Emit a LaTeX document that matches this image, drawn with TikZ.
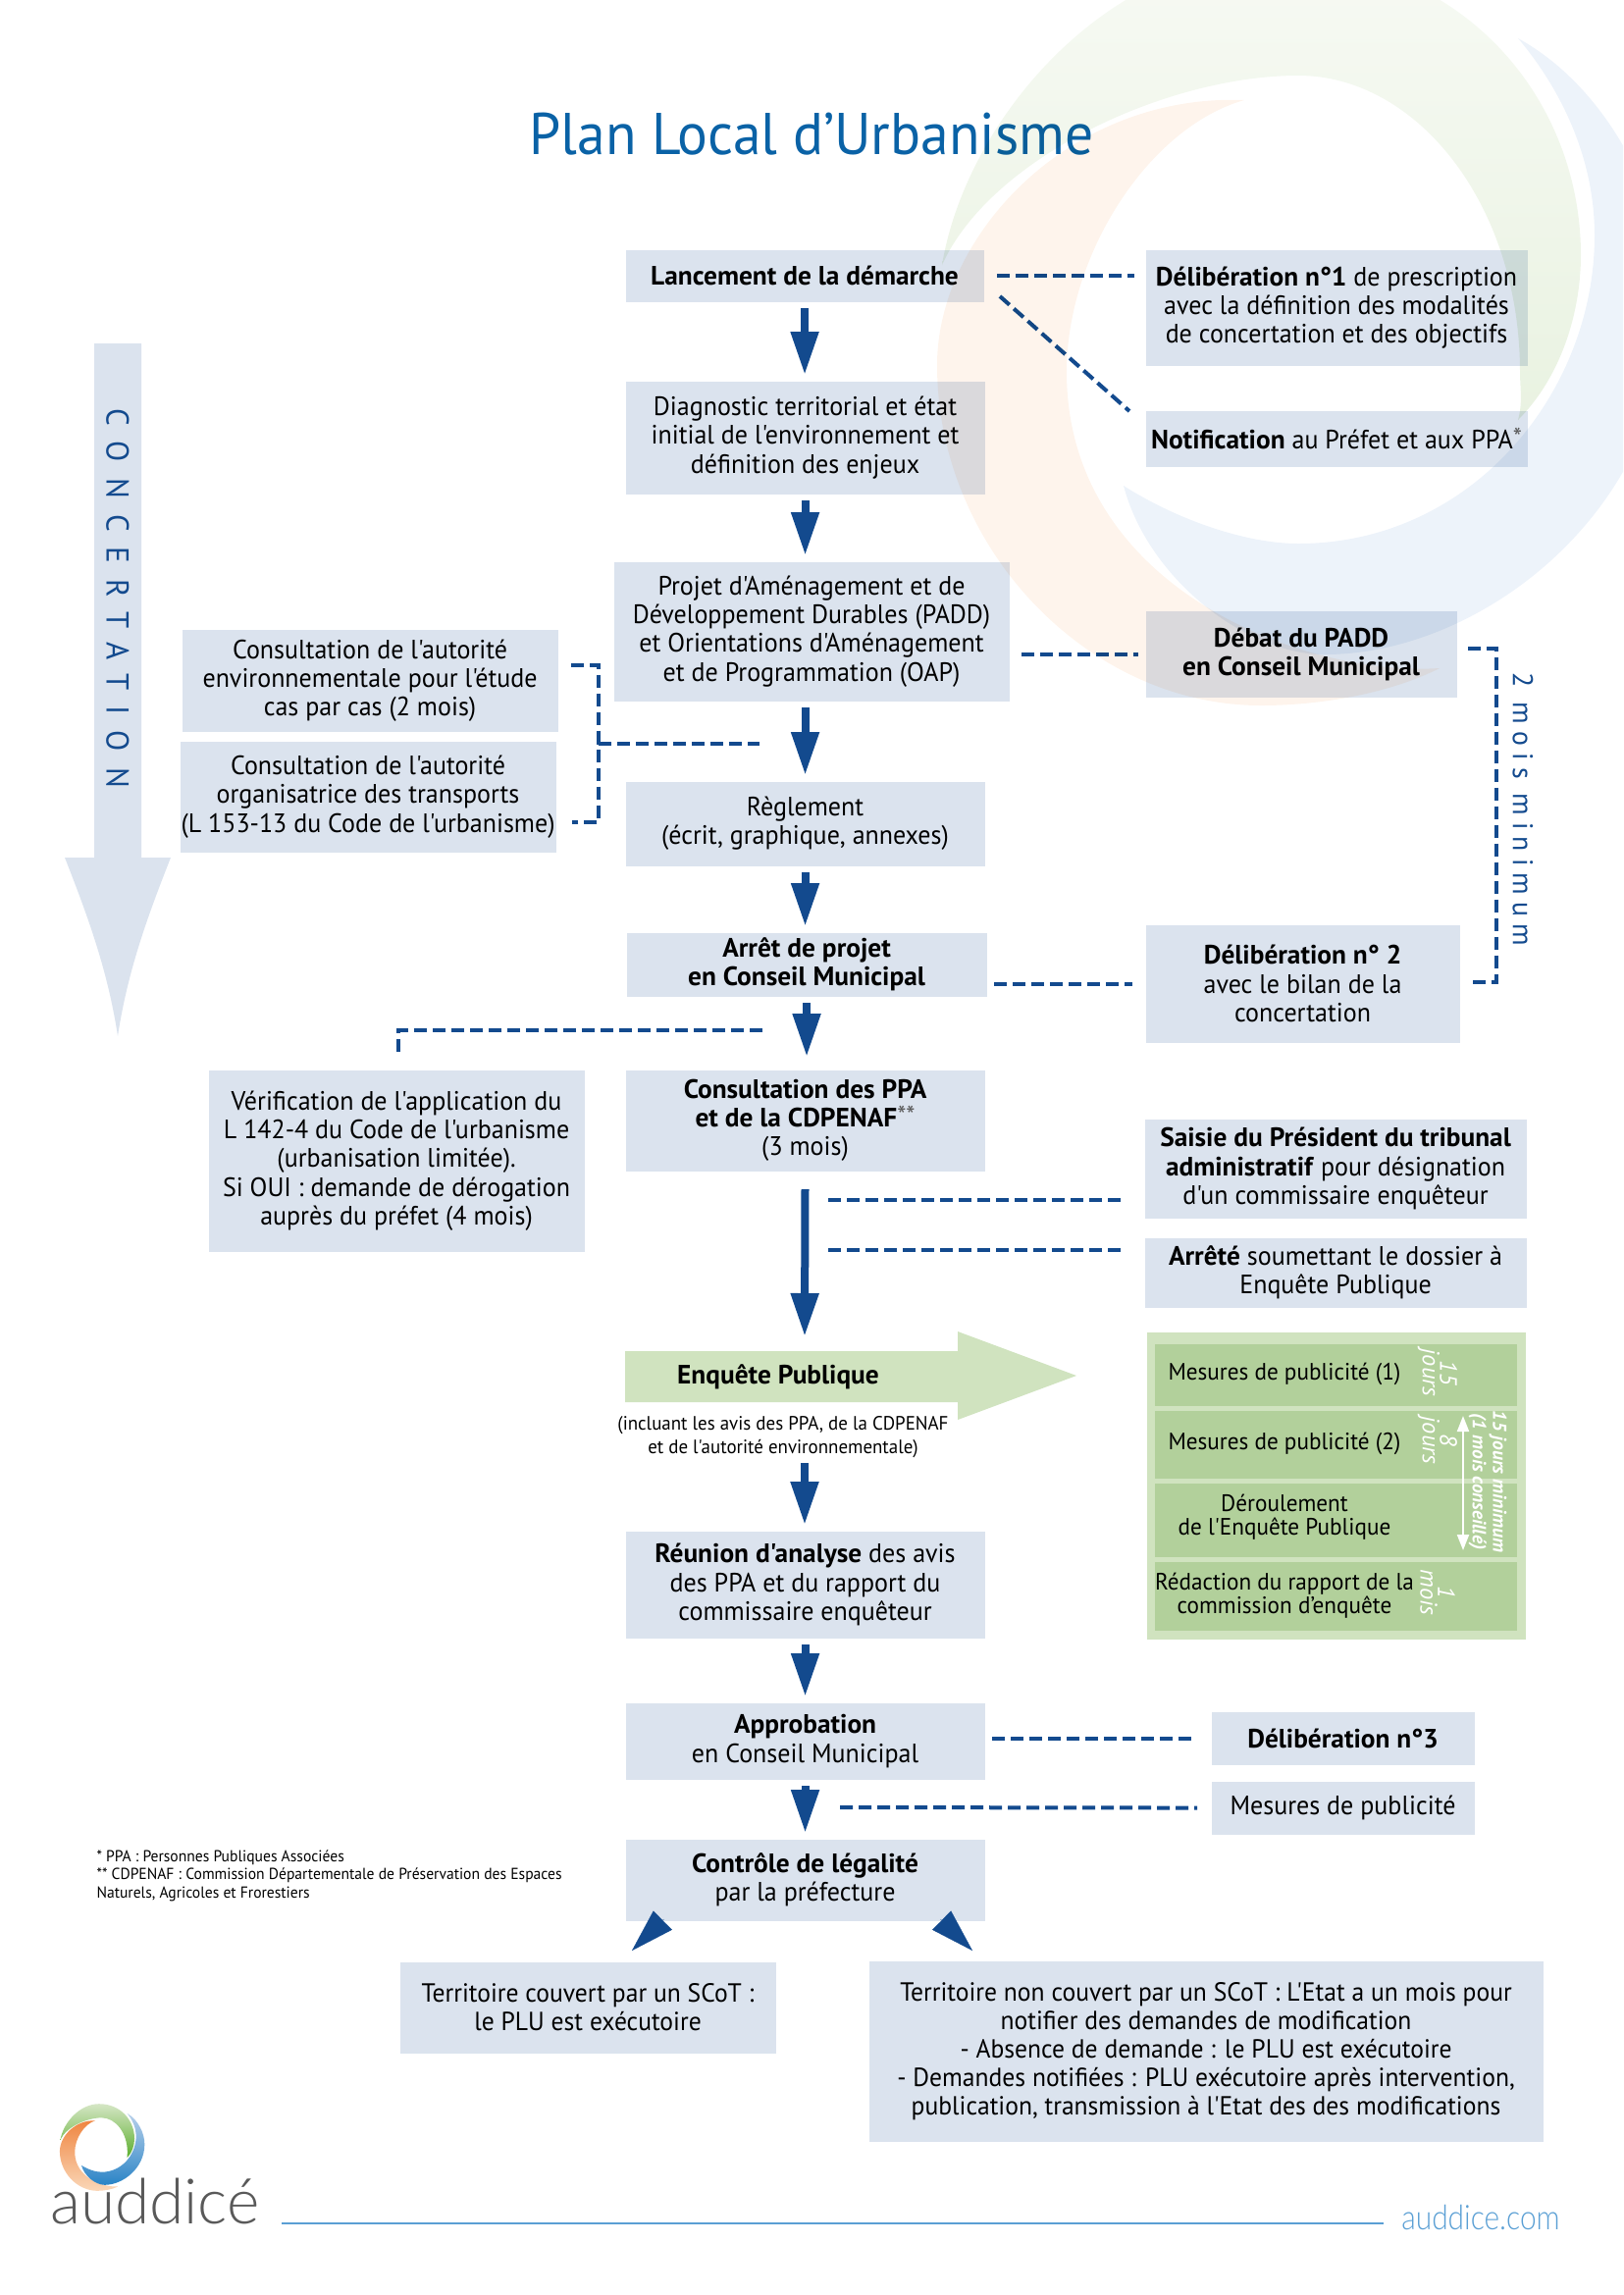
\documentclass[tikz,border=0pt]{standalone}
\usepackage{fontspec}
\usetikzlibrary{arrows.meta,positioning}
\newfontfamily\corps{PT Sans}[UprightFeatures={FakeStretch=0.96},BoldFeatures={FakeStretch=1.01}]
\newfontfamily\marque{Lato Light}
\newcommand{\pxu}{0.36pt}
\newcommand{\texte}{\corps\fontsize{9.75}{10.5}\selectfont}
\newcommand{\textebas}{\corps\fontsize{9.6}{10.5}\selectfont}
\newcommand{\petit}{\corps\fontsize{8.7}{8.7}\selectfont}
\newcommand{\duree}{\corps\itshape\fontsize{8.8}{6.4}\selectfont}
\newcommand{\dureepetit}{\corps\itshape\bfseries\fontsize{7}{7.4}\selectfont}
\newcommand{\etoile}[1]{\raisebox{0.15ex}{\color{black!65}#1}}
\definecolor{bleufonce}{HTML}{134A8E}
\definecolor{bleuboite}{HTML}{DBE3EE}
\definecolor{bleutitre}{HTML}{0A62A6}
\definecolor{bleumarque}{HTML}{5A9FD4}
\definecolor{vertclair}{HTML}{D0E3BF}
\definecolor{vertligne}{HTML}{B2D09B}
\definecolor{logovert}{HTML}{5BAE2D}
\definecolor{logovertclair}{HTML}{D5E6C5}
\definecolor{logoorange}{HTML}{EF8540}
\definecolor{logoorangeclair}{HTML}{FAD7B8}
\definecolor{logobleu}{HTML}{2A84C6}
\definecolor{logobleuclair}{HTML}{B8D0EA}
\definecolor{fondverthaut}{HTML}{F7FAF4}
\definecolor{fondvertbas}{HTML}{E9F2E1}
\definecolor{fondorange}{HTML}{FEF4EC}
\definecolor{fondbleu}{HTML}{EDF3FA}
\newcommand{\trajetvert}{(960,270) .. controls (985,120) and (1130,-45) .. (1300,-45)
    .. controls (1490,-45) and (1611,100) .. (1611,260)
    .. controls (1611,320) and (1590,385) .. (1547,428)
    .. controls (1552,410) and (1549,395) .. (1549,379)
    .. controls (1549,210) and (1445,77) .. (1323,77)
    .. controls (1190,77) and (1010,160) .. (960,270)}
\newcommand{\trajetorange}{(1268,102) .. controls (1090,95) and (955,240) .. (955,372)
    .. controls (955,560) and (1110,719) .. (1285,719)
    .. controls (1350,719) and (1420,705) .. (1467,681)
    .. controls (1330,690) and (1087,600) .. (1087,379)
    .. controls (1087,260) and (1170,130) .. (1268,102)}
\newcommand{\trajetbleu}{(1547,39) .. controls (1640,90) and (1700,210) .. (1700,310)
    .. controls (1700,520) and (1510,667) .. (1350,667)
    .. controls (1270,667) and (1170,590) .. (1145,495)
    .. controls (1200,530) and (1270,554) .. (1323,554)
    .. controls (1500,554) and (1625,400) .. (1625,240)
    .. controls (1625,160) and (1590,90) .. (1547,39)}
\tikzset{
    boite/.style={fill=bleuboite,anchor=north west,inner sep=0pt,align=center,font=\texte},
    ligneverte/.style={fill=vertligne,anchor=north west,inner sep=0pt},
    etiquette/.style={align=center,inner sep=0pt,font=\petit},
    jours/.style={align=center,inner sep=0pt,text=white,rotate=-90,font=\duree},
    flux/.style={draw=bleufonce,line width=8*\pxu,shorten <=6*\pxu,shorten >=6*\pxu,
        -{Triangle[width=27*\pxu,length=44*\pxu]}},
    pointe/.style={draw=bleufonce,fill=bleufonce,line width=0.1pt,
        -{Triangle[width=27*\pxu,length=44*\pxu]}},
    tirets/.style={draw=bleufonce,line width=4*\pxu,dash pattern=on 13*\pxu off 6*\pxu},
}
\begin{document}
\begin{tikzpicture}[x=\pxu,y=-\pxu]
    \useasboundingbox (0,0) rectangle (1654,2339);

    \node[font={\corps\addfontfeatures{FakeStretch=0.91}\fontsize{21.6}{28}\selectfont},text=bleutitre,inner sep=0pt] (titre) at (827,137) {Plan Local d’Urbanisme};

    % fleche de concertation
    \fill[bleuboite] (96,350) -- (144,350) -- (144,874) -- (174,874)
        .. controls (150,935) and (130,990) .. (120,1056)
        .. controls (110,990) and (90,935) .. (66,874) -- (96,874) -- cycle;
    \node[rotate=-90,text=bleufonce,inner sep=0pt,font={\corps\addfontfeatures{LetterSpace=50}\fontsize{11.6}{12}\selectfont}] (concertation) at (120,610) {CONCERTATION};

    % colonne centrale
    \node[boite,minimum width=365*\pxu,minimum height=53*\pxu] (lancement) at (637,254) {\textbf{Lancement de la démarche}};
    \node[boite,minimum width=366*\pxu,minimum height=115*\pxu] (diagnostic) at (637,388) {Diagnostic territorial et état\\initial de l'environnement et\\définition des enjeux};
    \node[boite,minimum width=403*\pxu,minimum height=142*\pxu] (padd) at (625,572) {Projet d'Aménagement et de\\Développement Durables (PADD)\\et Orientations d'Aménagement\\et de Programmation (OAP)};
    \node[boite,minimum width=366*\pxu,minimum height=86*\pxu] (reglement) at (637,796) {Règlement\\(écrit, graphique, annexes)};
    \node[boite,minimum width=367*\pxu,minimum height=65*\pxu] (arret) at (638,950) {\textbf{Arrêt de projet}\\\textbf{en Conseil Municipal}};
    \node[boite,minimum width=366*\pxu,minimum height=103*\pxu] (ppa) at (637,1090) {\textbf{Consultation des PPA}\\\textbf{et de la CDPENAF}\etoile{**}\\(3 mois)};
    \node[boite,minimum width=366*\pxu,minimum height=109*\pxu] (reunion) at (637,1560) {\textbf{Réunion d'analyse} des avis\\des PPA et du rapport du\\commissaire enquêteur};
    \node[boite,minimum width=366*\pxu,minimum height=78*\pxu] (approbation) at (637,1735) {\textbf{Approbation}\\en Conseil Municipal};
    \node[boite,minimum width=366*\pxu,minimum height=83*\pxu] (controle) at (637,1874) {\textbf{Contrôle de légalité}\\par la préfecture};

    % enquete publique
    \fill[vertclair] (637,1377) -- (976,1377) -- (976,1357) -- (1097,1402) -- (976,1447) -- (976,1429) -- (637,1429) -- cycle;
    \node[inner sep=0pt,font=\texte] (enquete) at (793,1403) {\textbf{Enquête Publique}};
    \node[inner sep=0pt,align=center,font=\corps\fontsize{7.1}{8.6}\selectfont] (enquetesous) at (798,1465) {(incluant les avis des PPA, de la CDPENAF\\et de l'autorité environnementale)};
    \coordinate (enquetehaut) at (820,1368);
    \coordinate (enquetebas) at (820,1485);

    % colonne droite
    \node[boite,minimum width=389*\pxu,minimum height=118*\pxu] (delib1) at (1167,254) {\textbf{Délibération n°1} de prescription\\avec la définition des modalités\\de concertation et des objectifs};
    \node[boite,minimum width=389*\pxu,minimum height=57*\pxu] (notification) at (1167,418) {\textbf{Notification} au Préfet et aux PPA\etoile{*}};
    \node[boite,minimum width=317*\pxu,minimum height=88*\pxu] (debat) at (1167,622) {\textbf{Débat du PADD}\\\textbf{en Conseil Municipal}};
    \node[boite,minimum width=320*\pxu,minimum height=120*\pxu] (delib2) at (1167,942) {\textbf{Délibération n° 2}\\avec le bilan de la\\concertation};
    \node[boite,minimum width=389*\pxu,minimum height=101*\pxu] (saisie) at (1166,1140) {\textbf{Saisie du Président du tribunal}\\\textbf{administratif} pour désignation\\d'un commissaire enquêteur};
    \node[boite,minimum width=389*\pxu,minimum height=71*\pxu] (arrete) at (1166,1261) {\textbf{Arrêté} soumettant le dossier à\\Enquête Publique};
    \node[boite,minimum width=268*\pxu,minimum height=54*\pxu] (delib3) at (1234,1744) {\textbf{Délibération n°3}};
    \node[boite,minimum width=268*\pxu,minimum height=54*\pxu] (mesures) at (1234,1815) {Mesures de publicité};

    % colonne gauche
    \node[boite,minimum width=383*\pxu,minimum height=104*\pxu] (consult1) at (185,641) {Consultation de l'autorité\\environnementale pour l'étude\\cas par cas (2 mois)};
    \node[boite,minimum width=383*\pxu,minimum height=113*\pxu] (consult2) at (183,755) {Consultation de l'autorité\\organisatrice des transports\\(L 153-13 du Code de l'urbanisme)};
    \node[boite,minimum width=383*\pxu,minimum height=185*\pxu] (verif) at (212,1090) {Vérification de l'application du\\L 142-4 du Code de l'urbanisme\\(urbanisation limitée).\\Si OUI : demande de dérogation\\auprès du préfet (4 mois)};

    % bas de page
    \node[boite,font=\textebas,minimum width=383*\pxu,minimum height=93*\pxu] (scot) at (407,1999) {Territoire couvert par un SCoT :\\le PLU est exécutoire};
    \node[boite,font=\textebas,minimum width=687*\pxu,minimum height=184*\pxu] (nonscot) at (885,1998) {Territoire non couvert par un SCoT : L'Etat a un mois pour\\notifier des demandes de modification\\- Absence de demande : le PLU est exécutoire\\- Demandes notifiées : PLU exécutoire après intervention,\\publication, transmission à l'Etat des des modifications};

    % panneau vert
    \node[fill=vertclair,anchor=north west,inner sep=0pt,minimum width=386*\pxu,minimum height=313*\pxu] (panneau) at (1168,1357) {};
    \node[ligneverte,minimum width=369*\pxu,minimum height=63*\pxu] (ligne1) at (1176,1369) {};
    \node[ligneverte,minimum width=369*\pxu,minimum height=69*\pxu] (ligne2) at (1176,1437) {};
    \node[ligneverte,minimum width=369*\pxu,minimum height=75*\pxu] (ligne3) at (1176,1511) {};
    \node[ligneverte,minimum width=369*\pxu,minimum height=70*\pxu] (ligne4) at (1176,1591) {};
    \node[etiquette] (pub1) at (1309,1400) {Mesures de publicité (1)};
    \node[etiquette] (pub2) at (1309,1471) {Mesures de publicité (2)};
    \node[etiquette] (deroul) at (1309,1546) {Déroulement\\de l'Enquête Publique};
    \node[etiquette] (redaction) at (1309,1626) {Rédaction du rapport de la\\commission d’enquête};
    \node[jours] (duree1) at (1465,1399) {15\\jours};
    \node[jours] (duree2) at (1465,1468) {8\\jours};
    \node[jours] (duree4) at (1465,1623) {1\\mois};
    \node[jours,font=\dureepetit] (duree3) at (1516,1510) {15 jours minimum\\(1 mois conseillé)};
    \coordinate (durehaut) at (1491,1443);
    \coordinate (durebas) at (1491,1580);
    \draw[white,line width=2*\pxu,{Triangle[width=12*\pxu,length=16*\pxu]}-{Triangle[width=12*\pxu,length=16*\pxu]}] (durehaut) -- (durebas);

    % fleches
    \draw[flux] (lancement.south) -- (lancement.south |- diagnostic.north);
    \draw[flux] (diagnostic.south) -- (diagnostic.south |- padd.north);
    \draw[flux] (reglement.north |- padd.south) -- (reglement.north);
    \draw[flux] (reglement.south) -- (reglement.south |- arret.north);
    \draw[flux,shorten >=13*\pxu] (arret.south) -- (arret.south |- ppa.north);
    \draw[flux,shorten <=18*\pxu] (ppa.south) -- (enquetehaut);
    \draw[flux] (enquetebas) -- (enquetebas |- reunion.north);
    \draw[flux] (reunion.south) -- (reunion.south |- approbation.north);
    \draw[flux] (approbation.south) -- (approbation.south |- controle.north);
    \coordinate (pointegd) at (676.5,1956);
    \coordinate (pointegf) at (644,1988);
    \coordinate (pointedd) at (958.5,1956);
    \coordinate (pointedf) at (991,1988);
    \draw[pointe] (pointegd) -- (pointegf);
    \draw[pointe] (pointedd) -- (pointedf);

    % liaisons en tirets
    \draw[tirets,shorten <=13*\pxu,shorten >=11*\pxu] (lancement.east) -- (lancement.east -| delib1.west);
    \coordinate (diagdebut) at (1019,302);
    \coordinate (diagfin) at (1151,419);
    \draw[tirets] (diagdebut) -- (diagfin);
    \draw[tirets,shorten <=12*\pxu,shorten >=7*\pxu] (padd.east |- debat.west) -- (debat.west);
    \draw[tirets] ([shift={(11,-6)}]debat.east) -| ([shift={(37,-2)}]delib2.east) -- ([shift={(11,-2)}]delib2.east);
    \node[rotate=-90,text=bleufonce,inner sep=0pt,font={\corps\addfontfeatures{LetterSpace=25}\fontsize{10.4}{11}\selectfont}] (deuxmois) at (1552,825) {2 mois minimum};
    \draw[tirets,shorten <=7*\pxu,shorten >=13*\pxu] (arret.east |- delib2.west) -- (delib2.west);
    \coordinate (jonction) at (610,757.5);
    \coordinate (jonctionfin) at (774,757.5);
    \draw[tirets] ([shift={(13,-16)}]consult1.east) -| (jonction) |- ([shift={(16,26)}]consult2.east);
    \draw[tirets] (jonction) -- (jonctionfin);
    \coordinate (verifdebut) at (777,1050);
    \draw[tirets] (verifdebut) -| ([shift={(2,-16)}]verif.north);
    \coordinate (saisiedebut) at (844,1223);
    \coordinate (arretedebut) at (844,1274);
    \draw[tirets,shorten >=21*\pxu] (saisiedebut) -- (saisiedebut -| saisie.west);
    \draw[tirets,shorten >=21*\pxu] (arretedebut) -- (arretedebut -| arrete.west);
    \draw[tirets,shorten <=7*\pxu,shorten >=14*\pxu] (approbation.east |- delib3.west) -- (delib3.west);
    \coordinate (mesuresdebut) at (856,1842);
    \draw[tirets,shorten >=14*\pxu] (mesuresdebut) -- (mesures.west);

    % notes
    \node[anchor=north west,inner sep=0pt,align=left,font=\corps\fontsize{5.85}{6.7}\selectfont] (notes) at (98,1885) {* PPA : Personnes Publiques Associées\\** CDPENAF : Commission Départementale de Préservation des Espaces\\Naturels, Agricoles et Frorestiers};

    % pied de page
    \coordinate (filetdebut) at (287,2266);
    \coordinate (filetfin) at (1410,2266);
    \draw[bleumarque,line width=2*\pxu] (filetdebut) -- (filetfin);
    \node[text=bleumarque,inner sep=0pt,font={\marque\addfontfeatures{FakeStretch=0.86}\fontsize{12.5}{15}\selectfont}] (site) at (1509,2260) {auddice.com};
    \node[text=black!65,inner sep=0pt,anchor=base,font=\marque\fontsize{23}{26}\selectfont] (logotexte) at (158,2266) {auddicé};
    \begin{scope}[shift={(103.5,2188.5)},scale=0.116,shift={(-1322,-337)}]
        \shade[top color=logovertclair,bottom color=logovert] \trajetvert;
        \shade[top color=logoorange,bottom color=logoorangeclair] \trajetorange;
        \shade[top color=logobleuclair,bottom color=logobleu] \trajetbleu;
    \end{scope}

    % cercles de fond
    \begin{scope}[blend mode=multiply]
        \clip (0,0) rectangle (1654,2339);
        \shade[top color=fondverthaut,bottom color=fondvertbas] \trajetvert;
        \fill[fondorange] \trajetorange;
        \fill[fondbleu] \trajetbleu;
    \end{scope}
\end{tikzpicture}
\end{document}
